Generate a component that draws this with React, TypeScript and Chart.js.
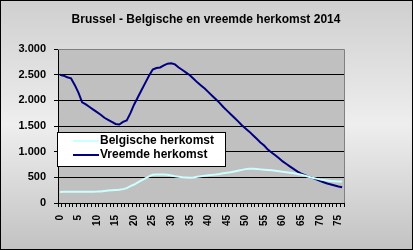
import React, { useEffect, useRef } from "react";
import { Chart, registerables } from "chart.js";

Chart.register(...registerables);

const title = "Brussel - Belgische en vreemde herkomst 2014";

const ages = [
  "0","1","2","3","4","5","6","7","8","9","10","11","12","13","14","15","16","17","18","19",
  "20","21","22","23","24","25","26","27","28","29","30","31","32","33","34","35","36","37","38","39",
  "40","41","42","43","44","45","46","47","48","49","50","51","52","53","54","55","56","57","58","59",
  "60","61","62","63","64","65","66","67","68","69","70","71","72","73","74","75","76",
];

const xTickLabels = ["0","5","10","15","20","25","30","35","40","45","50","55","60","65","70","75"];

const belgischeLabel = "Belgische herkomst";
const belgische = [
  215, 217, 218, 218, 219, 219, 220, 220, 221, 221, 222, 225, 235, 245, 250, 255, 260, 270, 290, 330,
  360, 400, 440, 480, 520, 550, 555, 555, 555, 550, 535, 520, 510, 500, 495, 490, 495, 510, 520, 530,
  540, 548, 555, 565, 578, 590, 600, 615, 630, 645, 660, 668, 665, 660, 655, 650, 645, 640, 630, 620,
  610, 600, 590, 580, 565, 550, 530, 510, 490, 475, 460, 450, 440, 430, 425, 420, 418,
];

const vreemdeLabel = "Vreemde herkomst";
const vreemde = [
  2500, 2480, 2450, 2430, 2300, 2150, 1960, 1920, 1870, 1820, 1770, 1720, 1660, 1620, 1580, 1540, 1530, 1580, 1610, 1750,
  1920, 2060, 2200, 2340, 2480, 2600, 2630, 2640, 2680, 2715, 2720, 2700, 2640, 2590, 2540, 2490, 2420, 2350, 2290, 2230,
  2160, 2090, 2020, 1950, 1870, 1800, 1730, 1660, 1590, 1515, 1450, 1390, 1320, 1250, 1180, 1120, 1040, 985, 930, 870,
  810, 760, 710, 660, 610, 570, 540, 510, 490, 460, 430, 405, 380, 360, 340, 320, 305,
];

const yTicks = [0, 500, 1000, 1500, 2000, 2500, 3000];

const FONT = "'Liberation Sans', Arial, sans-serif";

const decorPlugin = {
  id: "decor",
  beforeDraw(chart: any) {
    const { ctx, width, height, chartArea } = chart;
    ctx.save();
    const g = ctx.createLinearGradient(0, 0, 0, height);
    g.addColorStop(0, "#cfcfcf");
    g.addColorStop(0.5, "#eeeeee");
    g.addColorStop(1, "#c2c2c2");
    ctx.fillStyle = g;
    ctx.fillRect(0, 0, width, height);
    ctx.fillStyle = "#c0c0c0";
    ctx.fillRect(chartArea.left, chartArea.top, chartArea.right - chartArea.left, chartArea.bottom - chartArea.top);
    ctx.restore();
  },
  afterDraw(chart: any) {
    const { ctx, width, height, chartArea } = chart;
    ctx.save();
    // plot border top/right
    ctx.strokeStyle = "#808080";
    ctx.lineWidth = 1;
    ctx.beginPath();
    ctx.moveTo(chartArea.left, chartArea.top + 0.5);
    ctx.lineTo(chartArea.right + 0.5, chartArea.top + 0.5);
    ctx.lineTo(chartArea.right + 0.5, chartArea.bottom);
    ctx.stroke();
    // title
    ctx.fillStyle = "#000";
    ctx.font = `bold 12px ${FONT}`;
    ctx.textAlign = "center";
    ctx.textBaseline = "middle";
    ctx.fillText(title, 206, 20);
    // legend
    const lx = 57, ly = 132, lw = 168, lh = 34;
    ctx.fillStyle = "#ffffff";
    ctx.fillRect(lx, ly, lw, lh);
    ctx.strokeStyle = "#000";
    ctx.strokeRect(lx + 0.5, ly + 0.5, lw, lh);
    const items = chart.data.datasets;
    items.forEach((ds: any, i: number) => {
      const y = ly + 9 + i * 14;
      ctx.strokeStyle = ds.borderColor;
      ctx.lineWidth = 2;
      ctx.beginPath();
      ctx.moveTo(73, y);
      ctx.lineTo(99, y);
      ctx.stroke();
      ctx.fillStyle = "#000";
      ctx.font = `bold 12px ${FONT}`;
      ctx.textAlign = "left";
      ctx.textBaseline = "middle";
      ctx.fillText(ds.label, 100, y);
    });
    // outer border
    ctx.strokeStyle = "#000";
    ctx.lineWidth = 1;
    ctx.strokeRect(0.5, 0.5, width - 1, height - 1);
    ctx.restore();
  },
};

export default function App() {
  const ref = useRef<HTMLCanvasElement>(null);
  useEffect(() => {
    document.body.style.margin = "0";
    const canvas = ref.current!;
    const chart = new Chart(canvas, {
      type: "line",
      data: {
        labels: ages,
        datasets: [
          {
            label: belgischeLabel,
            data: belgische,
            borderColor: "#ccffff",
            borderWidth: 2,
            pointRadius: 0,
            tension: 0,
            fill: false,
          },
          {
            label: vreemdeLabel,
            data: vreemde,
            borderColor: "#000080",
            borderWidth: 2,
            pointRadius: 0,
            tension: 0,
            fill: false,
          },
        ],
      },
      options: {
        responsive: false,
        animation: false,
        devicePixelRatio: 1,
        layout: { padding: { left: 0, right: 69, top: 49, bottom: 0 } },
        plugins: {
          legend: { display: false },
          title: { display: false },
          tooltip: { enabled: false },
        },
        scales: {
          x: {
            type: "category",
            offset: true,
            grid: {
              display: true,
              drawOnChartArea: false,
              drawTicks: true,
              tickLength: 4,
              color: "#000",
              tickColor: "#000",
              offset: true,
            },
            border: { display: true, color: "#000", width: 1 },
            ticks: {
              autoSkip: false,
              minRotation: 90,
              maxRotation: 90,
              padding: 8,
              color: "#000",
              font: { family: FONT, size: 10, weight: "bold" },
              callback: (_v: any, i: number) => (xTickLabels.includes(ages[i]) ? ages[i] : ""),
            },
            afterFit: (scale: any) => {
              scale.height = 47;
            },
          },
          y: {
            min: 0,
            max: 3000,
            afterBuildTicks: (scale: any) => {
              scale.ticks = yTicks.map((v) => ({ value: v }));
            },
            grid: {
              color: (c: any) => (c.tick && c.tick.value === 3000 ? "#808080" : "#000"),
              tickColor: "#000",
              tickLength: 4,
              lineWidth: 1,
            },
            border: { display: true, color: "#000", width: 1 },
            ticks: {
              padding: 8,
              color: "#000",
              font: { family: FONT, size: 11, weight: "bold" },
              callback: (v: any) => Number(v).toLocaleString("de-DE"),
            },
            afterFit: (scale: any) => {
              scale.width = 58;
            },
          },
        },
      },
      plugins: [decorPlugin],
    });
    return () => chart.destroy();
  }, []);
  return (
    <div style={{ width: 413, height: 250 }}>
      <canvas ref={ref} width={413} height={250} style={{ display: "block" }} />
    </div>
  );
}
